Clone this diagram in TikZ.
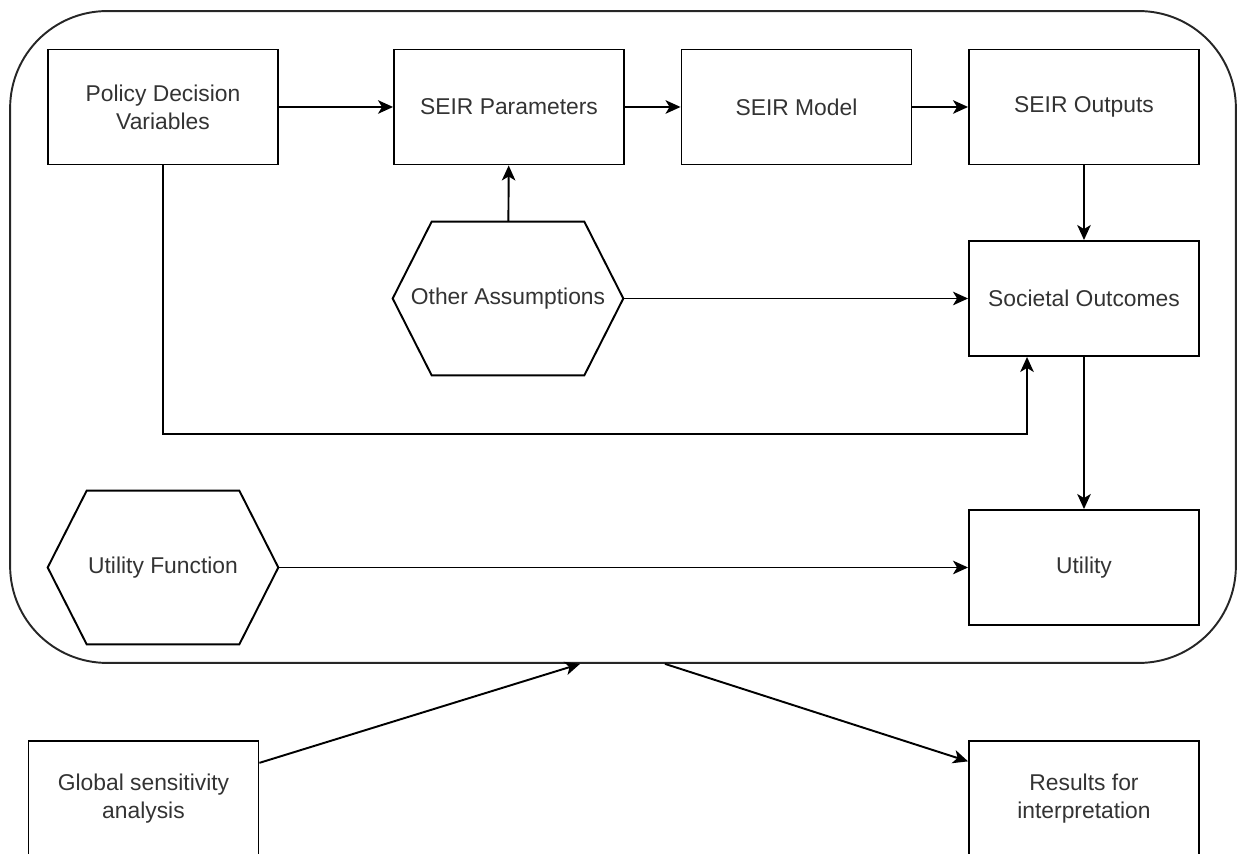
\documentclass[tikz,border=0pt]{standalone}
\usepackage{fontspec}
\setmainfont{Liberation Sans}
\usetikzlibrary{arrows.meta, positioning}

\begin{document}
\begin{tikzpicture}[
  x=0.02cm, y=-0.02cm,
  %--- shared node styles -----------------------------------------
  box/.style={
    rectangle, draw=black, line width=1.1pt,
    minimum width=4.6cm, minimum height=2.3cm, align=center,
    text=black!80, font=\fontsize{13}{16}\selectfont,
    inner sep=4pt
  },
  hexbox/.style={
    rectangle, minimum width=4.6cm, minimum height=3.06cm,
    align=center, text=black!80, font=\fontsize{13}{16}\selectfont,
    inner sep=4pt
  },
  modelframe/.style={
    rectangle, draw=black!85, line width=1.1pt,
    rounded corners=1.94cm,
    minimum width=24.52cm, minimum height=13.04cm
  },
  hexline/.style={line width=1.1pt, line join=miter},
  arr/.style={-{Stealth[length=0.3cm, width=0.27cm, inset=0.08cm]},
    line width=1.1pt},
]
\clip (0,0) rectangle (1238,854);

%% --- outer frame ------------------------------------------------
\node[modelframe] (frame) at (623, 337) {};

%% --- ROW 0 (y=107): decision variables and SEIR chain ---------
\node[box] (pdv)     at (163, 107)   {Policy Decision\\Variables};
\node[box] (params)  at (509, 107)   {SEIR Parameters};
\node[box] (model)   at (796.5, 107) {SEIR Model};
\node[box] (outputs) at (1084, 107)  {SEIR Outputs};

%% --- ROW 1 (y=298): assumptions and outcomes -------------------
\node[hexbox] (other)    at (508, 298.5)  {Other Assumptions};
\node[box]    (societal) at (1084, 298.5) {Societal Outcomes};

%% --- ROW 2 (y=567): utility ------------------------------------
\node[hexbox] (utilfn)  at (163, 567.5)  {Utility Function};
\node[box]    (utility) at (1084, 567.5) {Utility};

%% --- ROW 3 (below the frame, cut off by the page) ---------------
\node[box] (gsa)     at (143.5, 798.5) {Global sensitivity\\analysis};
\node[box] (results) at (1084, 798.5)  {Results for\\interpretation};

%% hexagon outlines
\foreach \h in {other, utilfn} {
  \draw[hexline] (\h.west)
    -- ([xshift=0.78cm]\h.north west) -- ([xshift=-0.78cm]\h.north east)
    -- (\h.east)
    -- ([xshift=-0.78cm]\h.south east) -- ([xshift=0.78cm]\h.south west)
    -- cycle;
}

%% frame in / out points
\coordinate (framein)  at ([xshift=-0.86cm]frame.south);
\coordinate (frameout) at ([xshift=0.84cm]frame.south);

%% --- arrows -----------------------------------------------------
\draw[arr] (pdv) -- (params);
\draw[arr] (params) -- (model);
\draw[arr] (model) -- (outputs);
\draw[arr] (outputs) -- (societal);
\draw[arr] (other) -- (params);
\draw[arr] (other) -- (societal);
% decision variables -> societal outcomes (round the bottom)
\draw[arr] (pdv.south) -- ++(0,269) -| ([xshift=-1.14cm]societal.south);
\draw[arr] (societal) -- (utility);
\draw[arr] (utilfn) -- (utility);
% sensitivity analysis into the frame, results out of it
\draw[arr] (gsa) -- (framein);
\draw[arr] (frameout) -- (results);

\end{tikzpicture}
\end{document}
